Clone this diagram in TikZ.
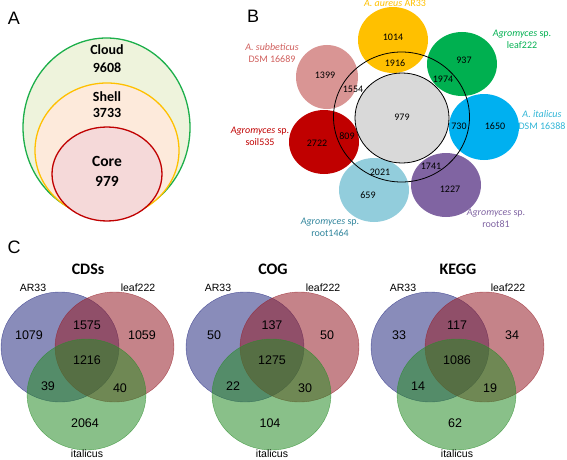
\documentclass[tikz,border=0pt]{standalone}
\usepackage{fontspec}
\setmainfont{Carlito}
\newfontfamily\arialfont{Liberation Sans}
\usetikzlibrary{positioning}

\definecolor{cloudline}{HTML}{1DAF4B}
\definecolor{cloudfill}{HTML}{EEF3DC}
\definecolor{shellline}{HTML}{FFC000}
\definecolor{shellfill}{HTML}{FDEADB}
\definecolor{coreline}{HTML}{C00000}
\definecolor{corefill}{HTML}{F5D9D9}
\definecolor{aureus}{HTML}{FFC000}
\definecolor{leafgreen}{HTML}{00B050}
\definecolor{subbet}{HTML}{D99594}
\definecolor{subbettxt}{HTML}{D0605E}
\definecolor{italic}{HTML}{00B0F0}
\definecolor{italictxt}{HTML}{2FB5D6}
\definecolor{soil}{HTML}{C00000}
\definecolor{rootblue}{HTML}{92CDDC}
\definecolor{roottxt}{HTML}{31859C}
\definecolor{rootpurple}{HTML}{8064A2}
\definecolor{coregray}{HTML}{D9D9D9}
\definecolor{vennblue}{RGB}{40,45,130}
\definecolor{vennred}{RGB}{150,30,40}
\definecolor{venngreen}{RGB}{40,140,40}

\begin{document}
\begin{tikzpicture}[x=1pt, y=-1pt]
\useasboundingbox (0,0) rectangle (567,460);
\tikzstyle{every node} = [inner sep=0pt, align=center]
\tikzstyle{panel} = [font=\arialfont\fontsize{18}{18}\selectfont]
\tikzstyle{pan} = [font=\bfseries\fontsize{14}{14}\selectfont]
\tikzstyle{num} = [font=\fontsize{10}{10}\selectfont]
\tikzstyle{strain} = [font=\fontsize{10}{12}\selectfont]
\tikzstyle{vnum} = [font=\arialfont\fontsize{12.5}{13}\selectfont]
\tikzstyle{vlab} = [font=\arialfont\fontsize{10.5}{11}\selectfont]
\tikzstyle{venn} = [fill opacity=.55, draw opacity=.7, line width=.4pt]

% panel A
\node[panel] (A) at (14,18) {A};
\filldraw[fill=cloudfill, draw=cloudline, line width=1.3pt] (106.5,127.5) ellipse (83.5pt and 89.5pt);
\filldraw[fill=shellfill, draw=shellline, line width=1.3pt] (107,150.5) ellipse (72pt and 67.5pt);
\filldraw[fill=corefill, draw=coreline, line width=1.3pt] (107,174) ellipse (55pt and 47pt);
\node[pan] (cloud) at (107,50) {Cloud};
\node[pan] (cloudn) at (107,68) {9608};
\node[pan] (shell) at (107,97) {Shell};
\node[pan] (shelln) at (107,113) {3733};
\node[pan, font=\bfseries\fontsize{15.5}{16}\selectfont] (core) at (107,161) {Core};
\node[pan, font=\bfseries\fontsize{15.5}{16}\selectfont] (coren) at (107,181) {979};

% panel B
\node[panel] (B) at (253,16) {B};
\fill[aureus] (393,40) ellipse (35pt and 33pt);
\fill[leafgreen] (462,64) ellipse (35pt and 32pt);
\fill[subbet] (327,77) ellipse (31pt and 32pt);
\fill[italic] (484,127) ellipse (35pt and 33pt);
\fill[soil] (324,142) ellipse (35pt and 32pt);
\fill[rootblue] (374,190) ellipse (35pt and 32pt);
\fill[rootpurple] (446,185) ellipse (35pt and 32pt);
\filldraw[fill=coregray, draw=black, line width=.8pt] (402,118) ellipse (47pt and 45pt);
\draw[line width=.8pt] (401.5,117) ellipse (68pt and 65pt);

\node[num] (n1014) at (393,37) {1014};
\node[num] (n1916) at (395,63) {1916};
\node[num] (n937) at (464,60) {937};
\node[num] (n1974) at (443,79) {1974};
\node[num] (n1399) at (325,75) {1399};
\node[num] (n1554) at (353,89) {1554};
\node[num] (n979) at (402,117) {979};
\node[num] (n730) at (459,126) {730};
\node[num] (n1650) at (495,126) {1650};
\node[num] (n2722) at (317,143) {2722};
\node[num] (n809) at (347,136) {809};
\node[num] (n2021) at (380,172) {2021};
\node[num] (n659) at (368,195) {659};
\node[num] (n1741) at (431,166) {1741};
\node[num] (n1227) at (450,189) {1227};

\node[strain, text=aureus] (s1) at (395,3.5) {\textit{A. aureus} AR33};
\node[strain, text=leafgreen] (s2) at (522,39.5) {\textit{Agromyces} sp.\\leaf222};
\node[strain, text=subbettxt] (s3) at (272,53.5) {\textit{A. subbeticus}\\DSM 16689};
\node[strain, text=italictxt] (s4) at (542,120) {\textit{A. italicus}\\DSM 16388};
\node[strain, text=soil] (s5) at (260,136.5) {\textit{Agromyces} sp.\\soil535};
\node[strain, text=roottxt] (s6) at (330,227) {\textit{Agromyces} sp.\\root1464};
\node[strain, text=rootpurple] (s7) at (496,218.5) {\textit{Agromyces} sp.\\root81};

% panel C
\node[panel] (C) at (14,247) {C};
\foreach \off/\ttl/\na/\nab/\nb/\nabc/\nac/\nbc/\nc [count=\i] in
  {0/CDSs/1079/1575/1059/1216/39/40/2064,
   185/COG/50/137/50/1275/22/30/104,
   370/KEGG/33/117/34/1086/14/19/62}
{
\begin{scope}[xshift=\off]
\filldraw[venn, fill=vennblue, draw=vennblue] (60,347) ellipse (59pt and 55pt);
\filldraw[venn, fill=vennred, draw=vennred] (114.5,347) ellipse (59.5pt and 55pt);
\filldraw[venn, fill=venngreen, draw=venngreen] (86.5,394.5) ellipse (59.5pt and 55.5pt);
\node[font=\bfseries\fontsize{16}{16}\selectfont] (ttl\i) at (88,269) {\ttl};
\node[vlab] (ar\i) at (33,288) {AR33};
\node[vlab] (lf\i) at (138,288) {leaf222};
\node[vlab] (it\i) at (87,454) {italicus};
\node[vnum] (a\i) at (29,335) {\na};
\node[vnum] (ab\i) at (87,325) {\nab};
\node[vnum] (b\i) at (142,335) {\nb};
\node[vnum] (abc\i) at (87,360) {\nabc};
\node[vnum] (ac\i) at (48,386) {\nac};
\node[vnum] (bc\i) at (120,388) {\nbc};
\node[vnum] (c\i) at (85,423) {\nc};
\end{scope}
}
\end{tikzpicture}
\end{document}
